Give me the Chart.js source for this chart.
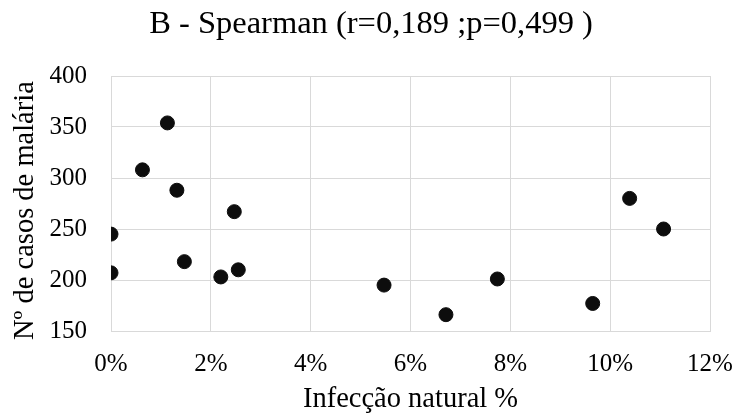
<!DOCTYPE html>
<html>
<head>
<meta charset="utf-8">
<script src="https://cdn.jsdelivr.net/npm/chart.js@4"></script>
<style>
  html, body { margin: 0; padding: 0; background: #fff; }
</style>
</head>
<body>
<canvas id="myChart" width="734" height="417"></canvas>
<script>
// infection rate (%) vs. malaria cases
const infeccao = [1.13, 0.63, 1.32, 2.47, 0.0, 0.0, 1.47, 2.2, 2.55, 5.47, 6.71, 7.74, 9.65, 10.39, 11.07];
const casos    = [354, 308, 288, 267, 245, 207, 218, 203, 210, 195, 166, 201, 177, 280, 250];
const xTicks = [0, 2, 4, 6, 8, 10, 12];
const yTicks = [150, 200, 250, 300, 350, 400];

const serif = 'Liberation Serif, Times New Roman, serif';
const gridColor = '#d9d9d9';

const points = infeccao.map((x, i) => ({ x, y: casos[i] }));

new Chart(document.getElementById('myChart'), {
  type: 'scatter',
  data: {
    datasets: [{
      data: points,
      backgroundColor: '#0d0d0d',
      borderColor: '#0d0d0d',
      pointRadius: 7,
      pointHoverRadius: 7
    }]
  },
  options: {
    responsive: false,
    animation: false,
    devicePixelRatio: 1,
    layout: { padding: { left: 8, right: 0, top: 0, bottom: 0 } },
    plugins: {
      legend: { display: false },
      tooltip: { enabled: false },
      title: {
        display: true,
        text: 'B - Spearman (r=0,189 ;p=0,499 )',
        color: '#000',
        font: { family: serif, size: 32.5, weight: 'normal' },
        padding: { top: 5, bottom: 32 }
      }
    },
    scales: {
      x: {
        type: 'linear',
        min: xTicks[0],
        max: xTicks[xTicks.length - 1],
        afterBuildTicks: s => { s.ticks = xTicks.map(v => ({ value: v })); },
        afterFit: s => { s.height = 86; s.paddingLeft = 0; s.paddingRight = 24; },
        grid: { color: gridColor, drawTicks: false },
        border: { color: gridColor },
        ticks: {
          color: '#000',
          padding: 18,
          maxRotation: 0,
          font: { family: serif, size: 25 },
          callback: v => v + '%'
        },
        title: {
          display: true,
          text: 'Infecção natural %',
          color: '#000',
          font: { family: serif, size: 28.5 },
          padding: { top: 0, bottom: 0 }
        }
      },
      y: {
        min: yTicks[0],
        max: yTicks[yTicks.length - 1],
        afterBuildTicks: s => { s.ticks = yTicks.map(v => ({ value: v })); },
        afterFit: s => { s.width = 103; },
        grid: { color: gridColor, drawTicks: false },
        border: { color: gridColor },
        ticks: {
          color: '#000',
          padding: 24,
          font: { family: serif, size: 25 }
        },
        title: {
          display: true,
          text: 'Nº de casos de malária  ',
          color: '#000',
          font: { family: serif, size: 28.5 },
          padding: { top: 0, bottom: 0 }
        }
      }
    }
  }
});
</script>
</body>
</html>
